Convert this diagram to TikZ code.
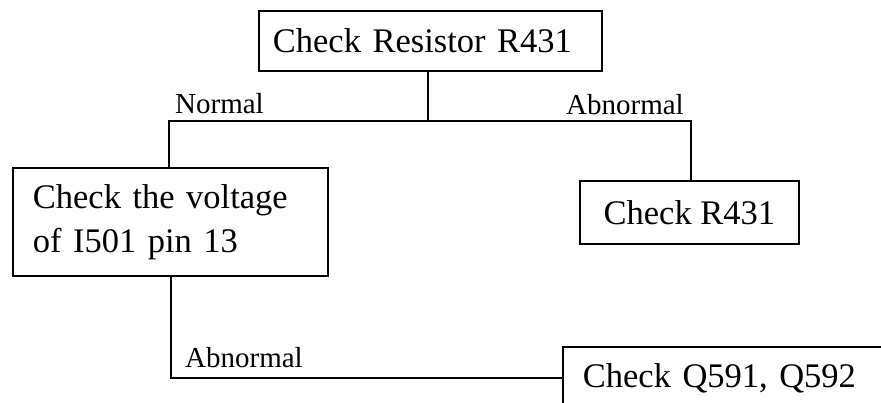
\documentclass[tikz,border=0pt]{standalone}
\usepackage{fontspec}
\setmainfont{Liberation Serif}
\begin{document}
\begin{tikzpicture}[x=1pt,y=1pt,
  box/.style={draw, line width=1.8pt, anchor=north west, align=left,
    font=\fontsize{34.5}{44}\selectfont, inner ysep=0pt},
  lbl/.style={anchor=base west, inner sep=0pt, font=\fontsize{29}{30}\selectfont},
  conn/.style={line width=1.8pt}]
\useasboundingbox (0,0) rectangle (881,-402);
\clip (0,0) rectangle (881,-402);
\node[box, inner xsep=14pt, text width=315pt, minimum height=60pt] (top) at (258,-10) {Check Resistor R431};
\node[box, inner xsep=20pt, text width=275pt, minimum height=108pt] (box2) at (12,-167) {Check the voltage\\of I501 pin 13};
\node[box, inner xsep=0pt, minimum width=219pt, minimum height=63pt] (box3) at (579,-180) {Check R431};
\node[box, inner xsep=20pt, text width=360pt, minimum height=62pt] (box4) at (562,-346) {Check Q591, Q592};
\coordinate (jt) at (428,-121);
\coordinate (jl) at (169,-121);
\coordinate (jr) at (691,-121);
\coordinate (jb) at (171,-377);
\draw[conn] (top.south -| jt) -- (jt);
\draw[conn] (box2.north -| jl) -- (jl) -- (jr) -- (box3.north -| jr);
\draw[conn] (box2.south -| jb) |- (box4.west);
\node[lbl] (n1) at (175,-113) {Normal};
\node[lbl] (n2) at (566,-114) {Abnormal};
\node[lbl] (n3) at (185,-367) {Abnormal};
\end{tikzpicture}
\end{document}
